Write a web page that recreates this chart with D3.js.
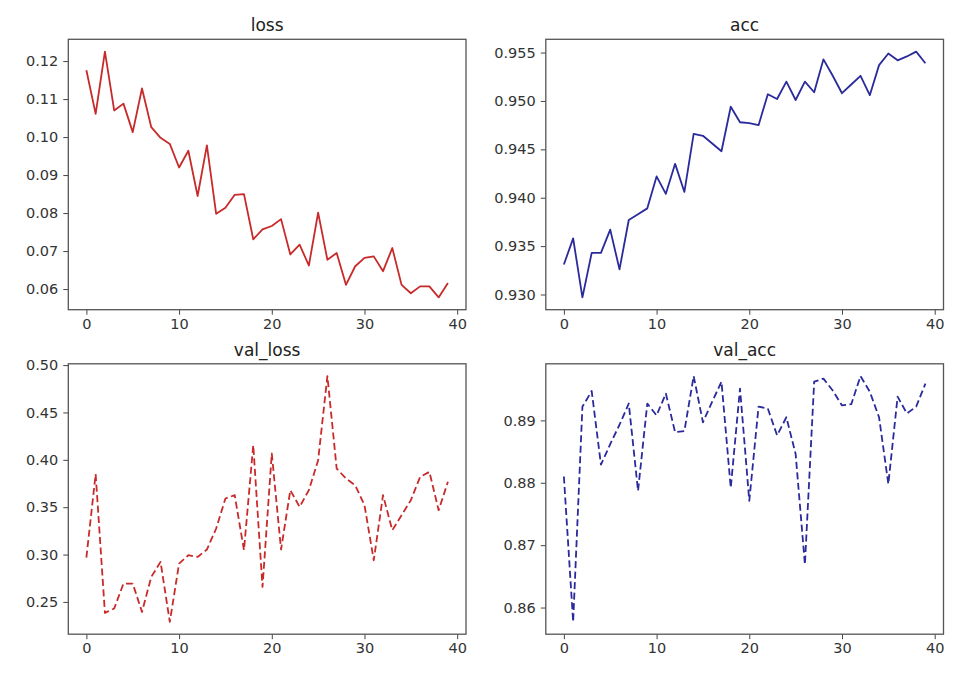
<!DOCTYPE html>
<meta charset="utf-8">
<script src="https://d3js.org/d3.v7.min.js"></script>
<style>
  body { margin: 0; background: #fff; }
  text { font-family: "DejaVu Sans", sans-serif; }
</style>
<div id="chart"></div>
<script>

// epochs 0..39
var epochs = d3.range(40);

var loss = [0.1176, 0.1061, 0.1225, 0.1070, 0.1088, 0.1013, 0.1128, 0.1026, 0.0998, 0.0982,
            0.0920, 0.0964, 0.0845, 0.0978, 0.0798, 0.0814, 0.0848, 0.0850, 0.0731, 0.0757,
            0.0766, 0.0784, 0.0691, 0.0717, 0.0662, 0.0801, 0.0677, 0.0695, 0.0611, 0.0660,
            0.0682, 0.0686, 0.0647, 0.0708, 0.0611, 0.0589, 0.0607, 0.0607, 0.0578, 0.0616];

var acc = [0.9331, 0.9358, 0.9297, 0.9343, 0.9343, 0.9367, 0.9326, 0.9377, 0.9383, 0.9389,
           0.9422, 0.9404, 0.9435, 0.9406, 0.9466, 0.9464, 0.9456, 0.9448, 0.9494, 0.9478,
           0.9477, 0.9475, 0.9507, 0.9502, 0.9520, 0.9501, 0.9520, 0.9509, 0.9543, 0.9526,
           0.9508, 0.9517, 0.9526, 0.9506, 0.9537, 0.9549, 0.9542, 0.9546, 0.9551, 0.9539];

var valLoss = [0.2968, 0.3849, 0.2384, 0.2430, 0.2694, 0.2694, 0.2394, 0.2764, 0.2923, 0.2289,
               0.2905, 0.2993, 0.2975, 0.3053, 0.3275, 0.3592, 0.3627, 0.3046, 0.4155, 0.2658,
               0.4067, 0.3053, 0.3680, 0.3504, 0.3680, 0.3996, 0.4884, 0.3908, 0.3803, 0.3732,
               0.3521, 0.2940, 0.3627, 0.3257, 0.3415, 0.3574, 0.3820, 0.3873, 0.3468, 0.3768];

var valAcc = [0.8810, 0.8577, 0.8922, 0.8947, 0.8829, 0.8862, 0.8893, 0.8927, 0.8787, 0.8927,
              0.8908, 0.8943, 0.8881, 0.8883, 0.8971, 0.8897, 0.8930, 0.8962, 0.8792, 0.8951,
              0.8771, 0.8922, 0.8919, 0.8876, 0.8905, 0.8846, 0.8669, 0.8962, 0.8967, 0.8948,
              0.8924, 0.8926, 0.8971, 0.8946, 0.8905, 0.8798, 0.8938, 0.8911, 0.8922, 0.8959];

var xTicks = [0, 10, 20, 30, 40];
var lossTicks = [0.06, 0.07, 0.08, 0.09, 0.10, 0.11, 0.12];
var accTicks = [0.930, 0.935, 0.940, 0.945, 0.950, 0.955];
var valLossTicks = [0.25, 0.30, 0.35, 0.40, 0.45, 0.50];
var valAccTicks = [0.86, 0.87, 0.88, 0.89];

var width = 964, height = 682;

var svg = d3.select("#chart")
  .append("svg")
    .attr("width", width)
    .attr("height", height);

var panels = [
  {title: "loss",     values: loss,    ticks: lossTicks,    fmt: ".2f", color: "#c82a2a", dash: null,  x: 68.3,  y: 39.3},
  {title: "acc",      values: acc,     ticks: accTicks,     fmt: ".3f", color: "#2a2a9c", dash: null,  x: 545.8, y: 39.3},
  {title: "val_loss", values: valLoss, ticks: valLossTicks, fmt: ".2f", color: "#c82a2a", dash: "7,3.5", x: 68.3, y: 363.8},
  {title: "val_acc",  values: valAcc,  ticks: valAccTicks,  fmt: ".2f", color: "#2a2a9c", dash: "7,3.5", x: 545.8, y: 363.8}
];
var pw = 397.7, ph = 270.4;

// matplotlib style 5% margins
function padded(ext) {
  var m = (ext[1] - ext[0]) * 0.05;
  return [ext[0] - m, ext[1] + m];
}

panels.forEach(function(p) {
  var g = svg.append("g")
    .attr("transform", "translate(" + p.x + "," + p.y + ")");

  var x = d3.scaleLinear()
    .domain(padded(d3.extent(epochs)))
    .range([0, pw]);
  var y = d3.scaleLinear()
    .domain(padded(d3.extent(p.values)))
    .range([ph, 0]);

  // axes
  var xa = g.append("g")
    .attr("transform", "translate(0," + ph + ")")
    .call(d3.axisBottom(x).tickValues(xTicks).tickSizeOuter(0).tickSize(5).tickPadding(4));
  var ya = g.append("g")
    .call(d3.axisLeft(y).tickValues(p.ticks).tickFormat(d3.format(p.fmt)).tickSizeOuter(0).tickSize(5).tickPadding(5));

  [xa, ya].forEach(function(a) {
    a.select(".domain").remove();
    a.selectAll(".tick line").attr("stroke", "#444").attr("stroke-width", 1);
    a.selectAll(".tick text")
      .attr("fill", "#333")
      .style("font-size", "14.5px");
  });

  // line
  g.append("path")
    .datum(epochs)
    .attr("d", d3.line()
      .x(function(d) { return x(d); })
      .y(function(d) { return y(p.values[d]); })
    )
    .attr("fill", "none")
    .attr("stroke", p.color)
    .attr("stroke-width", 1.8)
    .attr("stroke-linejoin", "round")
    .attr("stroke-dasharray", p.dash);

  // frame
  g.append("rect")
    .attr("width", pw)
    .attr("height", ph)
    .attr("fill", "none")
    .attr("stroke", "#555")
    .attr("stroke-width", 1.3);

  // title
  g.append("text")
    .attr("x", pw / 2)
    .attr("y", -8)
    .attr("text-anchor", "middle")
    .attr("fill", "#222")
    .style("font-size", "17px")
    .text(p.title);
});

</script>
